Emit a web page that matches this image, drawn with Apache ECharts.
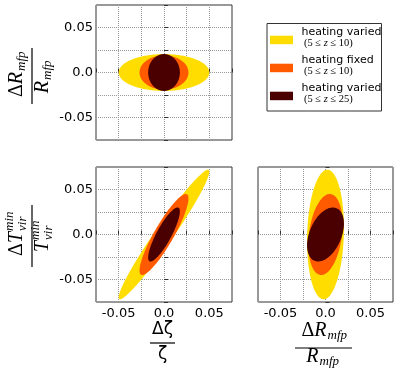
<!DOCTYPE html>
<html>
<head>
<meta charset="utf-8">
<script src="https://cdn.jsdelivr.net/npm/echarts@6/dist/echarts.min.js"></script>
<style>
  html, body { margin: 0; padding: 0; background: #fff; }
  #chart { width: 399px; height: 376px; }
</style>
</head>
<body>
<div id="chart"></div>
<script>
// three forecast setups
var setupNames = ['heating varied', 'heating fixed', 'heating varied'];
var setupZmax = ['10', '10', '25'];
var setupColors = ['#ffdd00', '#ff5a00', '#4a0000'];

// half extent of every ellipse along each parameter (fractional error)
var zetaHalf = [0.050, 0.027, 0.0175];
var rmfpHalf = [0.0205, 0.019, 0.0205];
var tvirHalf = [0.072, 0.045, 0.030];

// correlation between parameter pairs (tilt of the ellipse)
var rhoZetaRmfp = [0.0, 0.0, 0.0];
var rhoZetaTvir = [0.97, 0.89, 0.85];
var rhoRmfpTvir = [0.10, 0.25, 0.40];

var tickLabels = [-0.05, 0.0, 0.05];
var axisMin = -0.075, axisMax = 0.075, axisStep = 0.025;

var chart = echarts.init(document.getElementById('chart'));

function tickFmt(v) {
  for (var i = 0; i < tickLabels.length; i++) {
    if (Math.abs(v - tickLabels[i]) < 1e-9) {
      return tickLabels[i] === 0 ? '0.0' : tickLabels[i].toFixed(2);
    }
  }
  return '';
}

function axis(gridIndex, showLabel, isX) {
  return {
    gridIndex: gridIndex,
    type: 'value',
    min: axisMin, max: axisMax, interval: axisStep,
    axisLine: { show: false },
    axisTick: { show: true, inside: true, length: 4, lineStyle: { color: '#333' } },
    axisLabel: {
      show: showLabel, formatter: tickFmt, color: '#000',
      fontSize: 13, fontFamily: 'DejaVu Sans', margin: isX ? 5 : 3,
      showMinLabel: true, showMaxLabel: true
    },
    splitLine: { show: true, lineStyle: { type: 'dotted', color: '#999', width: 1 } }
  };
}

var grids = [
  { left: 96, top: 5, width: 136, height: 135 },
  { left: 96, top: 167, width: 136, height: 135 },
  { left: 258, top: 167, width: 135, height: 135 }
];
grids.forEach(function (g) { g.show = true; g.borderColor = '#333'; g.borderWidth = 1; g.backgroundColor = '#fff'; });

var xAxes = [axis(0, false, true), axis(1, true, true), axis(2, true, true)];
var yAxes = [axis(0, true, false), axis(1, true, false), axis(2, false, false)];

function ellipse(panel, i, hx, hy, rho) {
  return {
    type: 'custom',
    xAxisIndex: panel, yAxisIndex: panel,
    data: [[0, 0, hx, hy, rho]],
    encode: { x: 0, y: 1 },
    silent: true,
    clip: true,
    renderItem: function (params, api) {
      var cx = api.value(0), cy = api.value(1);
      var a = api.value(2), b = api.value(3), r = api.value(4);
      var s = Math.sqrt(1 - r * r);
      var pts = [];
      for (var k = 0; k < 160; k++) {
        var t = 2 * Math.PI * k / 160;
        pts.push(api.coord([cx + a * Math.cos(t), cy + b * (r * Math.cos(t) + s * Math.sin(t))]));
      }
      return { type: 'polygon', shape: { points: pts }, style: { fill: setupColors[i] } };
    }
  };
}

var series = [];
for (var i = 0; i < 3; i++) {
  series.push(ellipse(0, i, zetaHalf[i], rmfpHalf[i], rhoZetaRmfp[i]));
  series.push(ellipse(1, i, zetaHalf[i], tvirHalf[i], rhoZetaTvir[i]));
  series.push(ellipse(2, i, rmfpHalf[i], tvirHalf[i], rhoRmfpTvir[i]));
}

// math-style text helpers
var serif = 'Liberation Serif';
function txt(s, x, y, size, italic, align, family) {
  return {
    type: 'text', x: x, y: y,
    style: {
      text: s, fill: '#000', align: align || 'center', verticalAlign: 'middle',
      font: (italic ? 'italic ' : '') + size + 'px "' + (family || serif) + '"'
    }
  };
}
function bar(x1, x2, y) {
  return { type: 'line', shape: { x1: x1, y1: y, x2: x2, y2: y }, style: { stroke: '#000', lineWidth: 1.2 } };
}
// symbol with optional super/subscript, main text ends at ax
function sym(pre, main, sup, sub, ax, cy) {
  var out = [];
  out.push({
    type: 'text', x: ax, y: cy,
    style: {
      text: '{d|' + pre + '}{m|' + main + '}', align: 'right', verticalAlign: 'middle',
      rich: {
        d: { font: '20px "' + serif + '"', fill: '#000' },
        m: { font: 'italic 20px "' + serif + '"', fill: '#000' }
      }
    }
  });
  if (sup) out.push(txt(sup, ax + 1, cy - 7, 13, true, 'left'));
  if (sub) out.push(txt(sub, ax + 1, cy + (sup ? 6 : 5), 13, true, 'left'));
  return out;
}
function fraction(x, y, rot, num, den, w) {
  return { type: 'group', x: x, y: y, rotation: rot, children: [].concat(num, [bar(-w / 2, w / 2, 0)], den) };
}

var graphic = [
  fraction(32, 76, Math.PI / 2, sym('Δ', 'R', null, 'mfp', 4, -15), sym('', 'R', null, 'mfp', -5, 11), 56),
  fraction(32, 236, Math.PI / 2, sym('Δ', 'T', 'min', 'vir', 4, -15), sym('', 'T', 'min', 'vir', -5, 11), 62),
  fraction(162.5, 343, 0, [txt('Δζ', 0, -13, 17, false, 'center', 'DejaVu Sans')], [txt('ζ', 0, 12, 17, false, 'center', 'DejaVu Sans')], 25),
  fraction(323.5, 348, 0, sym('Δ', 'R', null, 'mfp', 3, -17), sym('', 'R', null, 'mfp', -5, 9), 57)
];

// legend box
var legendChildren = [
  { type: 'rect', shape: { x: 267, y: 23.5, width: 114.5, height: 87.5 }, style: { fill: '#fff', stroke: '#333', lineWidth: 1 } }
];
for (var j = 0; j < 3; j++) {
  var ry = 31.7 + 28 * j;
  legendChildren.push({ type: 'rect', shape: { x: 270, y: ry + 4, width: 23, height: 8.5 }, style: { fill: setupColors[j] } });
  legendChildren.push(txt(setupNames[j], 301.5, ry, 11, false, 'left', 'DejaVu Sans'));
  legendChildren.push({
    type: 'text', x: 304, y: ry + 12,
    style: {
      text: '{n|(5 ≤ }{z|z}{n| ≤ ' + setupZmax[j] + ')}', align: 'left', verticalAlign: 'middle',
      rich: {
        n: { font: '10.5px "' + serif + '"', fill: '#000' },
        z: { font: 'italic 10.5px "' + serif + '"', fill: '#000' }
      }
    }
  });
}
graphic.push({ type: 'group', children: legendChildren });

chart.setOption({
  animation: false,
  grid: grids,
  xAxis: xAxes,
  yAxis: yAxes,
  series: series,
  graphic: graphic
});
</script>
</body>
</html>
